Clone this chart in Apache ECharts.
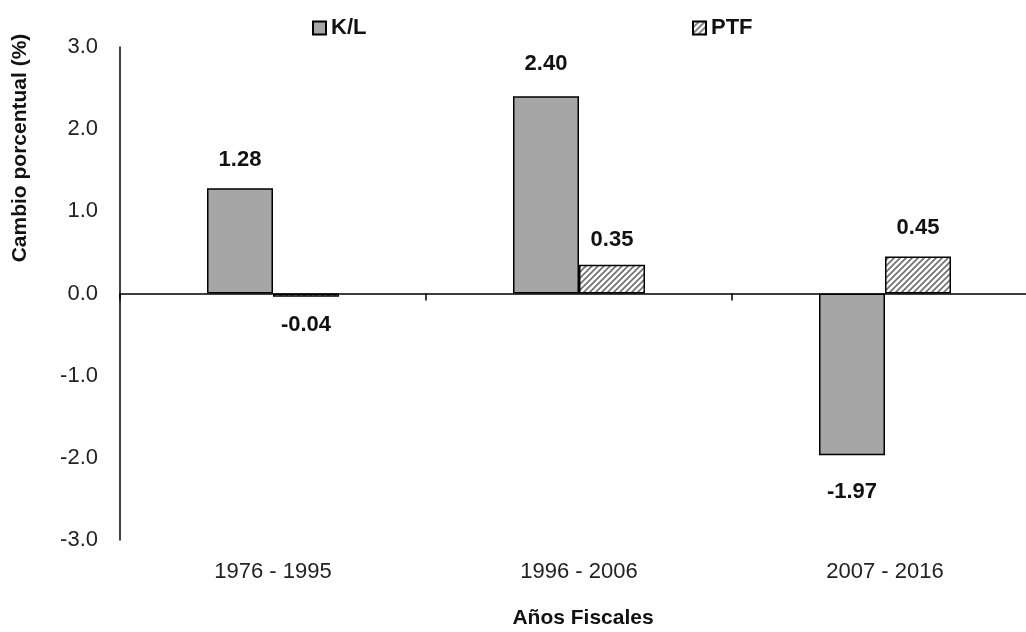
<!DOCTYPE html>
<html><head><meta charset="utf-8">
<script src="https://cdn.jsdelivr.net/npm/echarts@6/dist/echarts.min.js"></script>
<style>html,body{margin:0;padding:0;background:#fff}#c{width:1026px;height:632px}</style>
</head><body><div id="c"></div>
<script>
const categories = ['1976 - 1995', '1996 - 2006', '2007 - 2016'];
const seriesNames = ['K/L', 'PTF'];
const klValues = [1.28, 2.40, -1.97];
const ptfValues = [-0.04, 0.35, 0.45];
const yTicks = { min: -3, max: 3, interval: 1 };

const FONT = '"Liberation Sans", Arial, sans-serif';
// label gap from bar end (px), per bar, to mimic the reference's hand-placed labels
const klLabelGap = [17, 21, 26];
const ptfLabelGap = [17, 14, 18];

function hatch() {
  const c = document.createElement('canvas');
  c.width = 6; c.height = 6;
  const g = c.getContext('2d');
  g.fillStyle = '#fff'; g.fillRect(0, 0, 6, 6);
  g.strokeStyle = '#6e6e6e'; g.lineWidth = 1.6;
  g.beginPath();
  g.moveTo(-1, 7); g.lineTo(7, -1);
  g.moveTo(-4, 4); g.lineTo(4, -4);
  g.moveTo(2, 10); g.lineTo(10, 2);
  g.stroke();
  return { image: c, repeat: 'repeat' };
}

function items(vals, gaps) {
  return vals.map((v, i) => ({ value: v, label: { position: v < 0 ? 'bottom' : 'top', distance: gaps[i] } }));
}

const labelStyle = {
  show: true, fontFamily: FONT, fontWeight: 'bold', fontSize: 22, color: '#111',
  formatter: p => p.value.toFixed(2)
};

const legendText = { fontFamily: FONT, fontWeight: 'bold', fontSize: 22, color: '#111' };

const chart = echarts.init(document.getElementById('c'), null, { renderer: 'canvas' });
chart.setOption({
  animation: false,
  backgroundColor: '#fff',
  textStyle: { fontFamily: FONT },
  legend: [
    { data: [seriesNames[0]], left: 307, top: 12, icon: 'rect', itemWidth: 13, itemHeight: 13, textStyle: legendText },
    { data: [seriesNames[1]], left: 687, top: 12, icon: 'rect', itemWidth: 13, itemHeight: 13, textStyle: legendText }
  ],
  grid: { left: 120, top: 47, width: 918, bottom: 92, containLabel: false, outerBoundsMode: 'none' },
  xAxis: [
    {
      type: 'category', data: categories, position: 'bottom',
      axisLine: { onZero: true, lineStyle: { color: '#000', width: 1.5 } },
      axisTick: { show: true, length: 7, lineStyle: { color: '#000', width: 1.5 } },
      axisLabel: { show: false },
      splitLine: { show: false }
    },
    {
      type: 'category', data: categories, position: 'bottom',
      axisLine: { show: false, onZero: false },
      axisTick: { show: false },
      axisLabel: { margin: 21, fontFamily: FONT, fontSize: 22, color: '#222' },
      splitLine: { show: false }
    }
  ],
  yAxis: {
    type: 'value', min: yTicks.min, max: yTicks.max, interval: yTicks.interval,
    axisLine: { show: true, lineStyle: { color: '#000', width: 1.5 } },
    axisTick: { show: false },
    splitLine: { show: false },
    axisLabel: { margin: 22, fontFamily: FONT, fontSize: 22, color: '#222', formatter: v => v.toFixed(1) }
  },
  graphic: [
    { type: 'text', x: 583, y: 618, style: { text: 'Años Fiscales', align: 'center', verticalAlign: 'middle',
      fontFamily: FONT, fontWeight: 'bold', fontSize: 21, fill: '#111' } },
    { type: 'text', x: 20, y: 148, rotation: Math.PI / 2, style: { text: 'Cambio porcentual (%)', align: 'center', verticalAlign: 'middle',
      fontFamily: FONT, fontWeight: 'bold', fontSize: 21, fill: '#111' } }
  ],
  series: [
    { name: seriesNames[0], type: 'bar', xAxisIndex: 0, data: items(klValues, klLabelGap), barWidth: 66, barGap: '0%',
      itemStyle: { color: '#a6a6a6', borderColor: '#000', borderWidth: 1.5 }, label: labelStyle },
    { name: seriesNames[1], type: 'bar', xAxisIndex: 0, data: items(ptfValues, ptfLabelGap), barWidth: 66, barGap: '0%',
      itemStyle: { color: hatch(), borderColor: '#000', borderWidth: 1.5 }, label: labelStyle }
  ]
});
</script></body></html>
